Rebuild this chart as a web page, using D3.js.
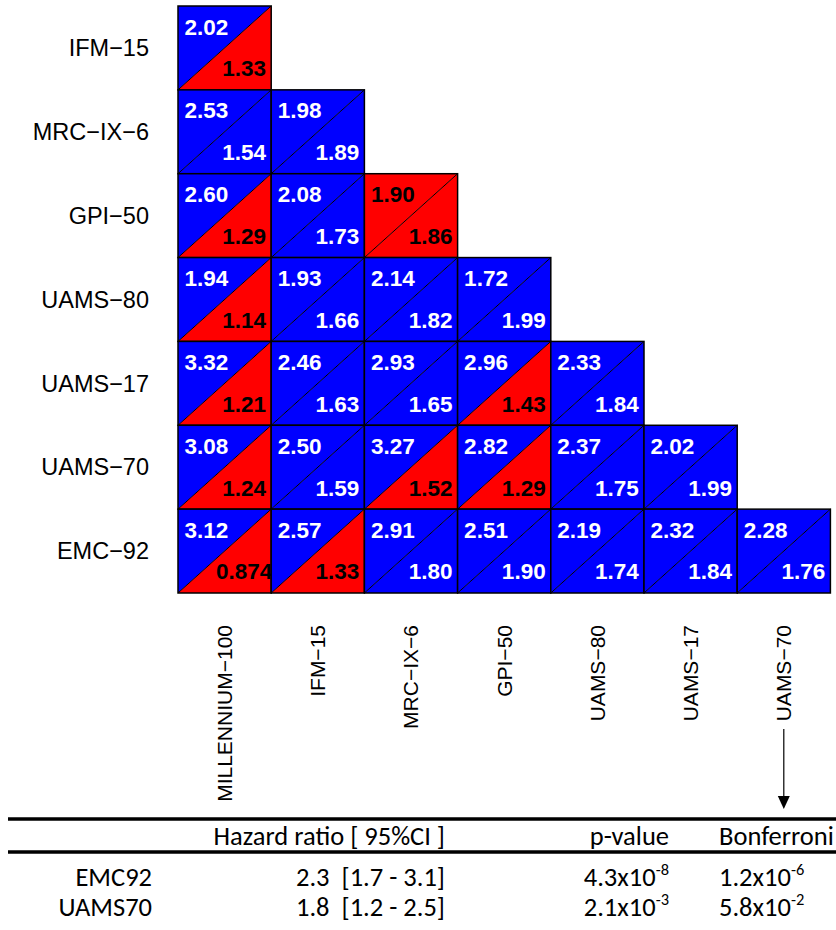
<!DOCTYPE html>
<html>
<head>
<meta charset="utf-8">
<script src="https://cdn.jsdelivr.net/npm/d3@7"></script>
<style>
  html, body { margin: 0; padding: 0; background: #fff; }
  svg { display: block; }
</style>
</head>
<body>
<svg id="chart" width="836" height="930"></svg>
<script>
// Pairwise comparison of prognostic signatures: each cell holds two hazard ratios,
// upper-left triangle and lower-right triangle. Blue = significant, red = not significant.
const rowLabels = ["IFM\u221215", "MRC\u2212IX\u22126", "GPI\u221250", "UAMS\u221280", "UAMS\u221217", "UAMS\u221270", "EMC\u221292"];
const colLabels = ["MILLENNIUM\u2212100", "IFM\u221215", "MRC\u2212IX\u22126", "GPI\u221250", "UAMS\u221280", "UAMS\u221217", "UAMS\u221270"];

// Hazard ratio in the upper-left triangle, one list per row
const upperValues = [
  [2.02],
  [2.53, 1.98],
  [2.60, 2.08, 1.90],
  [1.94, 1.93, 2.14, 1.72],
  [3.32, 2.46, 2.93, 2.96, 2.33],
  [3.08, 2.50, 3.27, 2.82, 2.37, 2.02],
  [3.12, 2.57, 2.91, 2.51, 2.19, 2.32, 2.28]
];
// Hazard ratio in the lower-right triangle
const lowerValues = [
  [1.33],
  [1.54, 1.89],
  [1.29, 1.73, 1.86],
  [1.14, 1.66, 1.82, 1.99],
  [1.21, 1.63, 1.65, 1.43, 1.84],
  [1.24, 1.59, 1.52, 1.29, 1.75, 1.99],
  [0.874, 1.33, 1.80, 1.90, 1.74, 1.84, 1.76]
];
// 1 = significant (blue), 0 = not significant (red)
const upperSignificant = [
  [1],
  [1, 1],
  [1, 1, 0],
  [1, 1, 1, 1],
  [1, 1, 1, 1, 1],
  [1, 1, 1, 1, 1, 1],
  [1, 1, 1, 1, 1, 1, 1]
];
const lowerSignificant = [
  [0],
  [1, 1],
  [0, 1, 0],
  [0, 1, 1, 1],
  [0, 1, 1, 0, 1],
  [0, 1, 0, 0, 1, 1],
  [0, 0, 1, 1, 1, 1, 1]
];

// Summary table
const tableHeaders = ["Hazard ratio [ 95%CI ]", "p-value", "Bonferroni"];
const tableSignatures = ["EMC92", "UAMS70"];
const hazardRatios = [2.3, 1.8];
const ciLower = [1.7, 1.2];
const ciUpper = [3.1, 2.5];
const pMantissa = [4.3, 2.1];
const pExponent = [-8, -3];
const bonfMantissa = [1.2, 5.8];
const bonfExponent = [-6, -2];

const svg = d3.select("#chart");
const BLUE = "#0000ff", RED = "#ff0000";
const fmt = d3.format(".3r");

const x = d3.scaleBand().domain(colLabels).range([178, 830.4]);
const y = d3.scaleBand().domain(rowLabels).range([6, 593]);
const w = x.bandwidth(), h = y.bandwidth();

const cells = [];
rowLabels.forEach((r, i) => {
  upperValues[i].forEach((u, j) => {
    cells.push({
      row: r, col: colLabels[j],
      upper: u, lower: lowerValues[i][j],
      upSig: upperSignificant[i][j], loSig: lowerSignificant[i][j]
    });
  });
});
// draw column by column so later cells overlap earlier overflowing text
cells.sort((a, b) => colLabels.indexOf(a.col) - colLabels.indexOf(b.col) || rowLabels.indexOf(a.row) - rowLabels.indexOf(b.row));

const g = svg.append("g").selectAll("g.cell").data(cells).join("g")
  .attr("class", "cell")
  .attr("transform", d => `translate(${x(d.col)},${y(d.row)})`);

g.append("path")
  .attr("d", `M0,0H${w}L0,${h}Z`)
  .attr("fill", d => d.upSig ? BLUE : RED);
g.append("path")
  .attr("d", `M${w},0V${h}H0Z`)
  .attr("fill", d => d.loSig ? BLUE : RED);
g.append("line")
  .attr("x1", 0).attr("y1", h).attr("x2", w).attr("y2", 0)
  .attr("stroke", "#000").attr("stroke-width", 1);
g.append("rect")
  .attr("width", w).attr("height", h)
  .attr("fill", "none").attr("stroke", "#000").attr("stroke-width", 1.5);

const cellFont = "'Liberation Sans', Arial, Helvetica, sans-serif";
g.append("text")
  .attr("x", w * 0.305).attr("y", 28.5)
  .attr("text-anchor", "middle")
  .attr("font-family", cellFont).attr("font-weight", "bold").attr("font-size", 22.5)
  .attr("fill", d => d.upSig ? "#fff" : "#000")
  .text(d => fmt(d.upper));
g.append("text")
  .attr("x", w * 0.71).attr("y", h - 13.5)
  .attr("text-anchor", "middle")
  .attr("font-family", cellFont).attr("font-weight", "bold").attr("font-size", 22.5)
  .attr("fill", d => d.loSig ? "#fff" : "#000")
  .text(d => fmt(d.lower));

// Row labels
svg.append("g").selectAll("text").data(rowLabels).join("text")
  .attr("x", 149).attr("y", d => y(d) + h / 2)
  .attr("dy", "0.35em")
  .attr("text-anchor", "end")
  .attr("font-family", cellFont).attr("font-size", 23.5)
  .attr("fill", "#000")
  .text(d => d);

// Column labels, rotated
svg.append("g").selectAll("text").data(colLabels).join("text")
  .attr("transform", d => `translate(${x(d) + w / 2},625) rotate(-90)`)
  .attr("dy", "0.35em")
  .attr("text-anchor", "end")
  .attr("font-family", cellFont).attr("font-size", 21)
  .attr("fill", "#000")
  .text(d => d);

// Arrow from the last column label down to the table
const ax = x(colLabels[colLabels.length - 1]) + w / 2;
svg.append("line")
  .attr("x1", ax).attr("x2", ax).attr("y1", 729).attr("y2", 798)
  .attr("stroke", "#000").attr("stroke-width", 1.2);
svg.append("path")
  .attr("d", `M${ax - 6},796L${ax + 6},796L${ax},809Z`)
  .attr("fill", "#000");

// Table
const tFont = "Carlito, Lato, 'Open Sans', sans-serif";
const tSize = 26.5;
svg.append("line").attr("x1", 8).attr("x2", 836).attr("y1", 819).attr("y2", 819)
  .attr("stroke", "#000").attr("stroke-width", 3.5);
svg.append("line").attr("x1", 8).attr("x2", 836).attr("y1", 852).attr("y2", 852)
  .attr("stroke", "#000").attr("stroke-width", 3.5);

const colRight = [445, 669];
const bonfLeft = 719;
const headerY = 845;
const rowY = d3.scalePoint().domain(tableSignatures).range([886, 916]);

const tbl = svg.append("g").attr("font-family", tFont).attr("font-size", tSize).attr("fill", "#000");
tbl.append("text").attr("x", colRight[0]).attr("y", headerY).attr("text-anchor", "end").text(tableHeaders[0]);
tbl.append("text").attr("x", colRight[1]).attr("y", headerY).attr("text-anchor", "end").text(tableHeaders[1]);
tbl.append("text").attr("x", bonfLeft).attr("y", headerY).attr("text-anchor", "start").text(tableHeaders[2]);

function sci(sel, m, e) {
  sel.append("tspan").text(d3.format(".1f")(m) + "x10");
  sel.append("tspan").attr("dy", -11).attr("font-size", tSize * 0.62).text(String(e));
}

tableSignatures.forEach((s, i) => {
  const yy = rowY(s);
  tbl.append("text").attr("x", 152).attr("y", yy).attr("text-anchor", "end").text(s);
  tbl.append("text").attr("x", colRight[0]).attr("y", yy).attr("text-anchor", "end")
    .attr("xml:space", "preserve")
    .text(`${d3.format(".1f")(hazardRatios[i])}  [${d3.format(".1f")(ciLower[i])} - ${d3.format(".1f")(ciUpper[i])}]`);
  tbl.append("text").attr("x", colRight[1]).attr("y", yy).attr("text-anchor", "end")
    .call(sci, pMantissa[i], pExponent[i]);
  tbl.append("text").attr("x", bonfLeft).attr("y", yy).attr("text-anchor", "start")
    .call(sci, bonfMantissa[i], bonfExponent[i]);
});
</script>
</body>
</html>
